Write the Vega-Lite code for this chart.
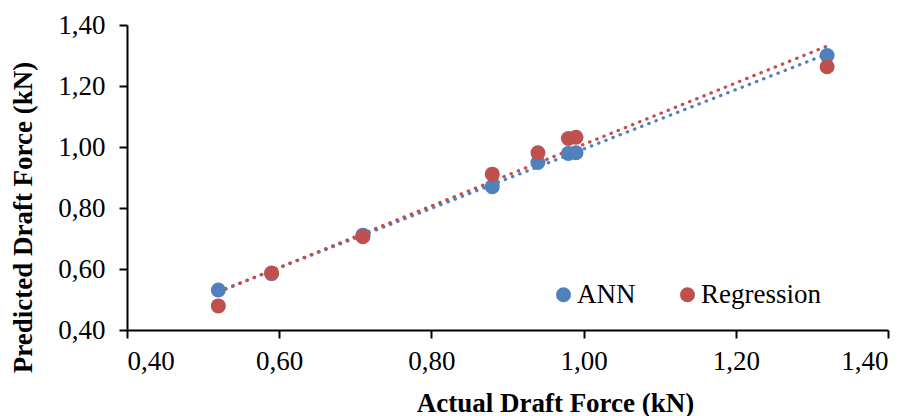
{
  "$schema": "https://vega.github.io/schema/vega-lite/v6.json",
  "autosize": {"type": "none"},
  "width": 761,
  "height": 305,
  "padding": {"left": 127, "top": 25, "right": 25, "bottom": 86},
  "background": "white",
  "config": {
    "locale": {"number": {"decimal": ",", "thousands": ".", "grouping": [3], "currency": ["", ""]}},
    "view": {"stroke": null},
    "font": "Liberation Serif",
    "axis": {
      "grid": false,
      "domainColor": "black",
      "domainWidth": 2,
      "tickColor": "black",
      "tickWidth": 2,
      "tickSize": 8,
      "labelFont": "Liberation Serif",
      "labelFontSize": 27,
      "labelColor": "black",
      "titleFont": "Liberation Serif",
      "titleFontSize": 27,
      "titleFontWeight": "bold",
      "titleColor": "black"
    },
    "legend": {
      "orient": "none",
      "direction": "horizontal",
      "legendX": 423,
      "legendY": 256,
      "symbolType": "circle",
      "symbolSize": 225,
      "symbolOpacity": 1,
      "labelFont": "Liberation Serif",
      "labelFontSize": 27,
      "labelColor": "black",
      "labelOffset": 0,
      "columnPadding": 38,
      "padding": 0
    }
  },
  "data": {
    "values": [
      {"actual": 0.52, "predicted": 0.531, "model": "ANN"},
      {"actual": 0.59, "predicted": 0.585, "model": "ANN"},
      {"actual": 0.71, "predicted": 0.711, "model": "ANN"},
      {"actual": 0.88, "predicted": 0.870, "model": "ANN"},
      {"actual": 0.94, "predicted": 0.949, "model": "ANN"},
      {"actual": 0.98, "predicted": 0.979, "model": "ANN"},
      {"actual": 0.99, "predicted": 0.981, "model": "ANN"},
      {"actual": 1.32, "predicted": 1.300, "model": "ANN"},
      {"actual": 0.52, "predicted": 0.479, "model": "Regression"},
      {"actual": 0.59, "predicted": 0.587, "model": "Regression"},
      {"actual": 0.71, "predicted": 0.706, "model": "Regression"},
      {"actual": 0.88, "predicted": 0.911, "model": "Regression"},
      {"actual": 0.94, "predicted": 0.981, "model": "Regression"},
      {"actual": 0.98, "predicted": 1.028, "model": "Regression"},
      {"actual": 0.99, "predicted": 1.032, "model": "Regression"},
      {"actual": 1.32, "predicted": 1.263, "model": "Regression"}
    ]
  },
  "encoding": {
    "x": {"field": "actual", "type": "quantitative",
      "scale": {"domain": [0.4, 1.4], "nice": false, "zero": false},
      "axis": {"values": [0.4, 0.6, 0.8, 1.0, 1.2, 1.4], "format": ".2f", "labelPadding": 10, "title": "Actual Draft Force (kN)", "titlePadding": 16, "titleX": 428, "titleAlign": "center", "titleAnchor": null}},
    "y": {"field": "predicted", "type": "quantitative",
      "scale": {"domain": [0.4, 1.4], "nice": false, "zero": false},
      "axis": {"values": [0.4, 0.6, 0.8, 1.0, 1.2, 1.4], "format": ".2f", "labelPadding": 14, "title": "Predicted Draft Force (kN)", "titlePadding": 20, "titleY": 192, "titleAlign": "center", "titleAnchor": null}}
  },
  "layer": [
    {
      "transform": [{"filter": "datum.model === 'ANN'"}, {"regression": "predicted", "on": "actual"}],
      "mark": {"type": "line", "stroke": "#4F81BD", "strokeDash": [0.5, 7.2], "strokeCap": "round", "strokeWidth": 3.2},
      "encoding": {}
    },
    {
      "transform": [{"filter": "datum.model === 'Regression'"}, {"regression": "predicted", "on": "actual"}],
      "mark": {"type": "line", "stroke": "#C0504D", "strokeDash": [0.5, 7.2], "strokeCap": "round", "strokeWidth": 3.2},
      "encoding": {}
    },
    {
      "mark": {"type": "point", "filled": true, "opacity": 1, "shape": "circle", "size": 225},
      "encoding": {
        "color": {"field": "model", "type": "nominal",
          "scale": {"domain": ["ANN", "Regression"], "range": ["#4F81BD", "#C0504D"]},
          "legend": {"title": null}
        }
      }
    }
  ]
}
